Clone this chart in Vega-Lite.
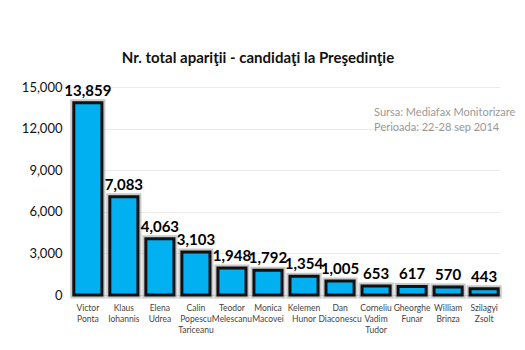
{
  "$schema": "https://vega.github.io/schema/vega-lite/v6.json",
  "width": 428,
  "height": 208,
  "autosize": "none",
  "padding": {"left": 72, "top": 87, "right": 25, "bottom": 55},
  "background": "white",
  "title": {
    "text": "Nr. total apariţii - candidaţi la Preşedinţie",
    "font": "Lato",
    "fontSize": 15,
    "fontWeight": "bold",
    "color": "#111111",
    "anchor": "middle",
    "dx": -28,
    "offset": 15
  },
  "config": {
    "view": {"stroke": null},
    "font": "Lato"
  },
  "data": {
    "values": [
      {"name": "Victor Ponta", "value": 13859},
      {"name": "Klaus Iohannis", "value": 7083},
      {"name": "Elena Udrea", "value": 4063},
      {"name": "Calin Popescu Tariceanu", "value": 3103},
      {"name": "Teodor Melescanu", "value": 1948},
      {"name": "Monica Macovei", "value": 1792},
      {"name": "Kelemen Hunor", "value": 1354},
      {"name": "Dan Diaconescu", "value": 1005},
      {"name": "Corneliu Vadim Tudor", "value": 653},
      {"name": "Gheorghe Funar", "value": 617},
      {"name": "William Brinza", "value": 570},
      {"name": "Szilagyi Zsolt", "value": 443}
    ]
  },
  "encoding": {
    "x": {
      "field": "name",
      "type": "nominal",
      "sort": null,
      "scale": {"paddingInner": 0.22, "paddingOuter": 0.05},
      "axis": {
        "title": null,
        "labelAngle": 0,
        "labelExpr": "split(datum.label, ' ')",
        "labelFontSize": 8.5,
        "labelColor": "#444444",
        "labelLineHeight": 11,
        "labelPadding": 8,
        "ticks": false,
        "domain": true,
        "domainColor": "#d9d9d9"
      }
    },
    "y": {
      "field": "value",
      "type": "quantitative",
      "scale": {"domain": [0, 15000]},
      "axis": {
        "title": null,
        "values": [0, 3000, 6000, 9000, 12000, 15000],
        "format": ",d",
        "labelFontSize": 13,
        "labelColor": "#111111",
        "labelPadding": 10,
        "ticks": false,
        "domain": false,
        "gridColor": "#ececec"
      }
    }
  },
  "layer": [
    {
      "mark": {"type": "bar", "fill": "#888888", "stroke": "#888888", "strokeWidth": 7, "opacity": 0.45}
    },
    {
      "mark": {"type": "bar", "fill": "#00B0F0", "stroke": "#111111", "strokeWidth": 3}
    },
    {
      "mark": {"type": "text", "dy": -4, "fontSize": 15, "fontWeight": "bold", "color": "#000000", "baseline": "bottom"},
      "encoding": {"text": {"field": "value", "type": "quantitative", "format": ",d"}}
    },
    {
      "data": {"values": [
        {"name": "Corneliu Vadim Tudor", "value": 13100, "t": "Sursa: Mediafax Monitorizare"},
        {"name": "Corneliu Vadim Tudor", "value": 12050, "t": "Perioada: 22-28 sep 2014"}
      ]},
      "mark": {"type": "text", "align": "left", "baseline": "middle", "fontSize": 11, "color": "#999999", "dx": -2},
      "encoding": {"text": {"field": "t", "type": "nominal"}}
    }
  ]
}
